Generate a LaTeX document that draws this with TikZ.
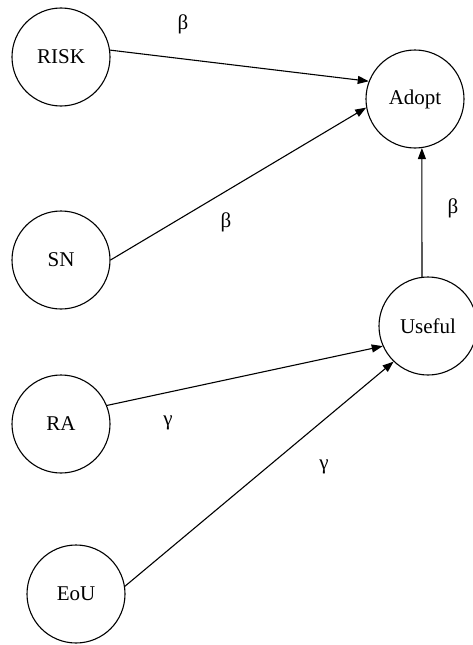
\documentclass[tikz,border=0pt]{standalone}
\usepackage{fontspec}
\setmainfont{Liberation Serif}
\usetikzlibrary{arrows.meta}
\begin{document}
\begin{tikzpicture}[x=1pt,y=-1pt,
  var/.style={circle,draw,line width=1.1pt,minimum size=98pt,inner sep=0pt,font=\fontsize{21}{24}\selectfont},
  link/.style={line width=1.1pt,-{Triangle[length=11pt,width=8pt]}},
  coef/.style={font=\fontsize{21}{24}\selectfont}]
\useasboundingbox (0,0) rectangle (472,645);
\node[var] (risk) at (61,57) {RISK};
\node[var] (adopt) at (415,99) {Adopt};
\node[var] (sn) at (61,260) {SN};
\node[var] (useful) at (428,326) {Useful};
\node[var] (ra) at (61,424) {RA};
\node[var] (eou) at (76,594) {EoU};
\draw[link] (risk.8) -- (adopt.159);
\draw[link] (sn.0) -- (adopt.190);
\draw[link] (useful.97) -- (adopt.-82);
\draw[link] (ra.22) -- (useful.204);
\draw[link] (eou.9) -- (useful.226);
\node[coef] (b1) at (183,24) {β};
\node[coef] (b2) at (226,222) {β};
\node[coef] (b3) at (453,208) {β};
\node[coef] (g1) at (168,423) {γ};
\node[coef] (g2) at (324,467) {γ};
\end{tikzpicture}
\end{document}
